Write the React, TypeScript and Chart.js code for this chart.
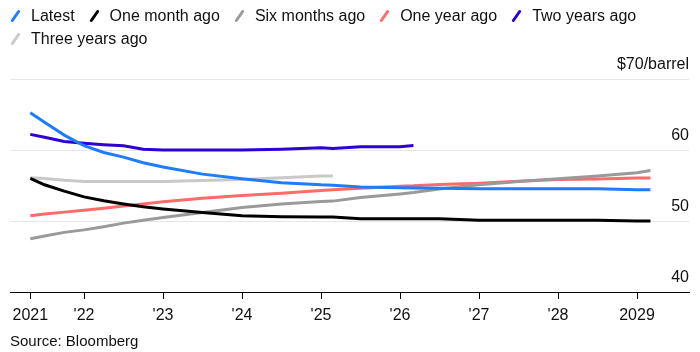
import React, { useEffect, useRef } from "react";
import { Chart, registerables } from "chart.js";

Chart.register(...registerables);

// x positions as fractional years (futures curve contract dates)
const years = [
  2021.32, 2021.5, 2021.75, 2022, 2022.25, 2022.5, 2022.75, 2023, 2023.5, 2024,
  2024.5, 2025, 2025.15, 2025.5, 2026, 2026.17, 2026.5, 2027, 2027.5, 2028,
  2028.5, 2029, 2029.17,
];

const latest = [
  65.25, 63.9, 62.1, 60.6, 59.65, 59.0, 58.2, 57.6, 56.6, 55.95, 55.4, 55.1,
  55.05, 54.8, 54.7, 54.65, 54.6, 54.55, 54.55, 54.55, 54.55, 54.4, 54.4,
];
const oneMonthAgo = [
  56.0, 55.1, 54.2, 53.4, 52.85, 52.4, 52.0, 51.7, 51.2, 50.75, 50.6, 50.55,
  50.55, 50.3, 50.3, 50.3, 50.3, 50.1, 50.1, 50.1, 50.1, 50.0, 50.0,
];
const sixMonthsAgo = [
  47.5, 47.9, 48.4, 48.75, 49.2, 49.7, 50.1, 50.5, 51.2, 51.9, 52.4, 52.75,
  52.8, 53.3, 53.8, 54.0, 54.5, 55.1, 55.55, 55.95, 56.35, 56.8, 57.1,
];
const oneYearAgo = [
  50.75, 51.0, 51.25, 51.5, 51.8, 52.1, 52.4, 52.7, 53.2, 53.6, 53.9, 54.3,
  54.4, 54.6, 54.9, 54.95, 55.15, 55.3, 55.6, 55.85, 55.9, 56.05, 56.05,
];
const twoYearsAgo = [
  62.2, 61.8, 61.2, 60.95, 60.75, 60.6, 60.1, 60.0, 60.0, 60.0, 60.1, 60.3,
  60.2, 60.45, 60.45, 60.65, null, null, null, null, null, null, null,
];
const threeYearsAgo = [
  56.1, 56.0, 55.75, 55.55, 55.55, 55.55, 55.55, 55.55, 55.7, 55.85, 56.1,
  56.35, 56.35, null, null, null, null, null, null, null, null, null, null,
];

const seriesNames = [
  "Latest",
  "One month ago",
  "Six months ago",
  "One year ago",
  "Two years ago",
  "Three years ago",
];
const seriesColors = [
  "#1f7cff",
  "#000000",
  "#9a9a9a",
  "#ff6a6a",
  "#2c00d6",
  "#c9c9c9",
];
const seriesValues = [
  latest,
  oneMonthAgo,
  sixMonthsAgo,
  oneYearAgo,
  twoYearsAgo,
  threeYearsAgo,
];

const xTickValues = [2021.32, 2022, 2023, 2024, 2025, 2026, 2027, 2028, 2029];
const xTickLabels = ["2021", "'22", "'23", "'24", "'25", "'26", "'27", "'28", "2029"];
const yTickValues = [40, 50, 60, 70];
const yTickLabels = ["40", "50", "60", "$70/barrel"];
const sourceText = "Source: Bloomberg";

const FONT = '"Liberation Sans", Arial, Helvetica, sans-serif';

export default function App() {
  const canvasRef = useRef<HTMLCanvasElement | null>(null);

  useEffect(() => {
    if (!canvasRef.current) return;
    const datasets = seriesNames.map((name, i) => ({
      label: name,
      data: years.map((x, j) => ({ x, y: seriesValues[i][j] })),
      borderColor: seriesColors[i],
      backgroundColor: seriesColors[i],
      borderWidth: 3,
      pointRadius: 0,
      pointHoverRadius: 0,
      tension: 0,
      fill: false,
      spanGaps: false,
    }));

    const chart = new Chart(canvasRef.current, {
      type: "line",
      data: { datasets },
      options: {
        animation: false,
        responsive: false,
        maintainAspectRatio: false,
        layout: { padding: { left: 10, right: 11, top: 79, bottom: 20 } },
        plugins: {
          legend: { display: false },
          tooltip: { enabled: false },
        },
        scales: {
          x: {
            type: "linear",
            min: 2021.063,
            max: 2029.658,
            afterBuildTicks: (scale: any) => {
              scale.ticks = xTickValues.map((v) => ({ value: v }));
            },
            afterFit: (scale: any) => {
              scale.height = 40;
            },
            grid: {
              drawOnChartArea: false,
              drawTicks: true,
              tickLength: 7,
              color: "#000",
              lineWidth: 1,
            },
            border: { display: true, color: "#000", width: 1 },
            ticks: {
              autoSkip: false,
              maxRotation: 0,
              minRotation: 0,
              padding: 7,
              color: "#111",
              font: { family: FONT, size: 16 },
              callback: (_v: any, i: number) => xTickLabels[i],
            },
          },
          y: {
            type: "linear",
            position: "right",
            min: 40,
            max: 70,
            afterBuildTicks: (scale: any) => {
              scale.ticks = yTickValues.map((v) => ({ value: v }));
            },
            grid: {
              drawTicks: false,
              color: (ctx: any) =>
                ctx.tick && ctx.tick.value === 40 ? "rgba(0,0,0,0)" : "#e6e6e6",
              lineWidth: 1,
            },
            border: { display: false },
            ticks: {
              mirror: true,
              padding: 0,
              labelOffset: -14,
              color: "#111",
              font: { family: FONT, size: 16 },
              callback: (_v: any, i: number) => yTickLabels[i],
            },
          },
        },
      },
    });
    return () => chart.destroy();
  }, []);

  return (
    <div
      style={{
        position: "fixed",
        left: 0,
        top: 0,
        width: 700,
        height: 352,
        background: "#fff",
        fontFamily: FONT,
        color: "#111",
      }}
    >
      <canvas
        ref={canvasRef}
        width={700}
        height={352}
        style={{ position: "absolute", left: 0, top: 0, width: 700, height: 352 }}
      />
      <div
        style={{
          position: "absolute",
          left: 11,
          top: 6,
          width: 680,
          display: "flex",
          flexWrap: "wrap",
          rowGap: 4,
          fontSize: 16,
          lineHeight: "19px",
        }}
      >
        {seriesNames.map((name, i) => (
          <div
            key={name}
            style={{ display: "flex", alignItems: "center", marginRight: 15 }}
          >
            <span
              style={{
                display: "inline-block",
                width: 9,
                height: 13,
                marginRight: 11,
                position: "relative",
              }}
            >
              <span
                style={{
                  position: "absolute",
                  left: 3,
                  top: 0,
                  width: 3,
                  height: 14,
                  borderRadius: 1.5,
                  background: seriesColors[i],
                  transform: "rotate(35deg)",
                }}
              />
            </span>
            <span>{name}</span>
          </div>
        ))}
      </div>
      <div
        style={{
          position: "absolute",
          left: 10,
          top: 332,
          fontSize: 15,
          lineHeight: "18px",
        }}
      >
        {sourceText}
      </div>
    </div>
  );
}
